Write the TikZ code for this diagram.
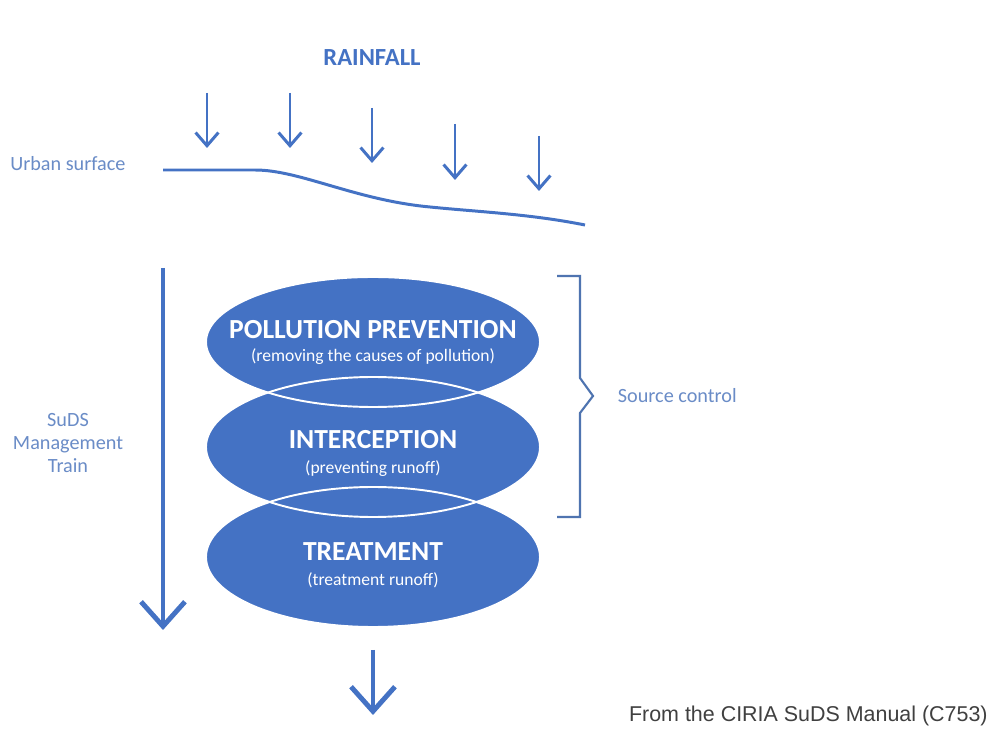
\documentclass[tikz,border=0pt]{standalone}
\usepackage{fontspec}
\setmainfont{Carlito}
\newfontfamily\citefont{Liberation Sans}
\usepackage{tikz}
\usetikzlibrary{positioning}
\usetikzlibrary{arrows.meta,shapes}
\usetikzlibrary{calc}
\definecolor{sudsblue}{HTML}{4472C4}
\definecolor{labelblue}{HTML}{6A8CC7}
\definecolor{bracketblue}{HTML}{4F74B0}

\begin{document}
\begin{tikzpicture}[x=0.02cm,y=-0.02cm,
  rain/.style={draw=sudsblue,line width=1.7pt,-{Straight Barb[length=7.5pt,width=13pt]}},
  flow/.style={draw=sudsblue,line width=2.8pt,-{Straight Barb[length=14pt,width=25pt]}},
  lbl/.style={text=labelblue,font=\fontsize{11.5}{13}\selectfont,inner sep=0pt},
  title/.style={text=white,font=\bfseries\fontsize{15.7}{18}\selectfont,inner sep=0pt},
  sub/.style={text=white,font=\fontsize{10}{12}\selectfont,inner sep=0pt}]
\useasboundingbox (0,0) rectangle (992,729);
\fill[white] (0,0) rectangle (992,729);

\node[text=sudsblue,font=\bfseries\fontsize{14}{16}\selectfont,inner sep=0pt] (rainfall) at (372,58) {RAINFALL};

\foreach \i/\x/\t/\b in {1/207/93/148,2/290/93/148,3/372/108/163,4/455/124/180,5/539/136/191} {
  \coordinate (r\i) at (\x,\t);
  \coordinate (d\i) at (\x,\b);
  \draw[rain] (r\i) -- (d\i);
  }

\node[lbl,anchor=west] (urban) at (10,164) {Urban surface};
\draw[sudsblue,line width=1.7pt] (163,170) -- (255,170) .. controls (300,170) and (355,200) .. (430,207)
  .. controls (480,212) and (530,214) .. (585,225);

% the three stages
\foreach \y/\r in {342/65,447/70,557/70}
  \fill[sudsblue] (373,\y) ellipse [x radius=167,y radius=\r];
\foreach \y/\r in {342/65,447/70,557/70}
  \draw[white,line width=1.1pt] (373,\y) ellipse [x radius=167,y radius=\r];

\node[title] (prevention) at (373,330) {POLLUTION PREVENTION};
\node[sub] (preventionsub) at (373,357) {(removing the causes of pollution)};
\node[title] (interception) at (373,440) {INTERCEPTION};
\node[sub] (interceptionsub) at (373,469) {(preventing runoff)};
\node[title] (treatment) at (373,552) {TREATMENT};
\node[sub] (treatmentsub) at (373,580) {(treatment runoff)};

\coordinate (trainstart) at (163,268);
\coordinate (trainend) at (163,630);
\draw[flow] (trainstart) -- (trainend);
\node[lbl,align=center] (train) at (68,443) {SuDS\\Management\\Train};

\coordinate (outstart) at (373,650);
\coordinate (outend) at (373,715);
\draw[flow] (outstart) -- (outend);

\draw[bracketblue,line width=1.2pt] (557,276) -| (580,378) -- (593,396) coordinate (tip) -- (580,413) |- (557,517);
\node[lbl,right=14pt of tip] (source) {Source control};

\node[text=black!75,font=\citefont\fontsize{12.2}{14}\selectfont,anchor=east,inner sep=0pt] (cite) at (988,716) {From the CIRIA SuDS Manual (C753)};
\end{tikzpicture}
\end{document}
